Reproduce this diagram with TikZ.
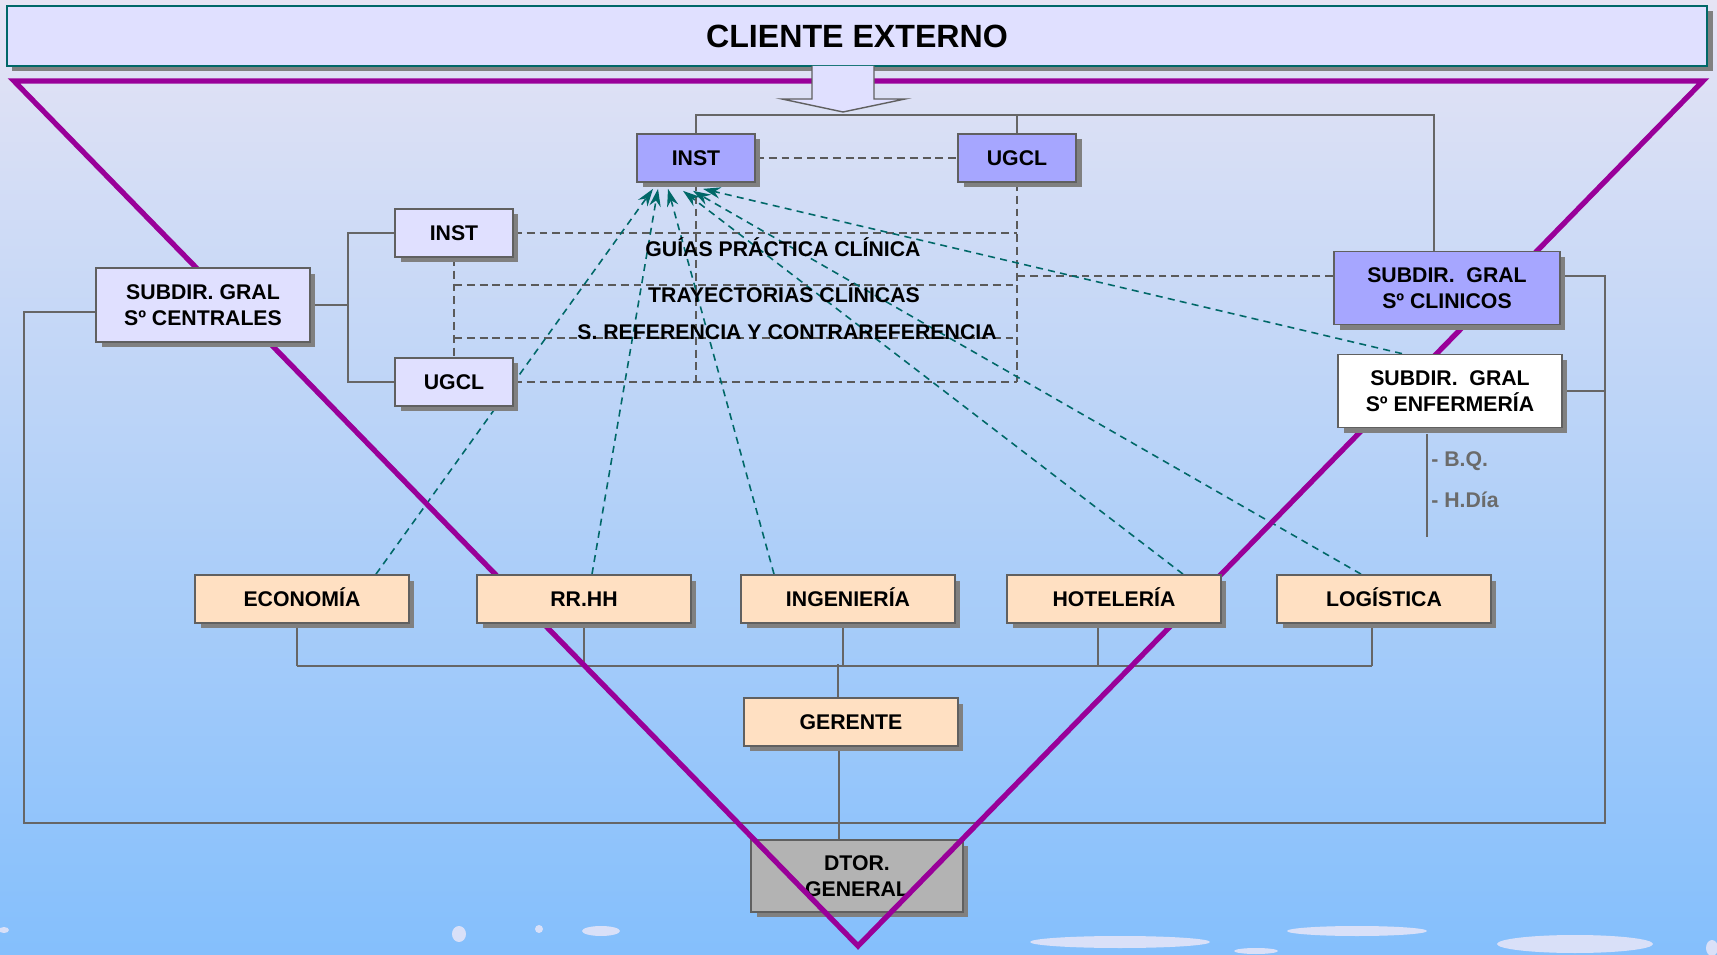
\documentclass[tikz,border=0pt]{standalone}
\usepackage{fontspec}
\setmainfont{Liberation Sans}
\usepackage{tikz}
\usetikzlibrary{calc}
\usetikzlibrary{arrows.meta}
\usetikzlibrary{shadows}
\usepackage{color}
\definecolor{lavanda}{RGB}{224, 224, 255}
\definecolor{malva}{RGB}{166, 166, 255}
\definecolor{melocoton}{RGB}{255, 224, 194}
\definecolor{grisdtor}{RGB}{179, 179, 179}
\definecolor{sombra}{RGB}{128, 128, 128}
\definecolor{borde}{RGB}{96, 96, 96}
\definecolor{gristraz}{RGB}{90, 90, 90}
\definecolor{grislinea}{RGB}{102, 102, 102}
\definecolor{gristexto}{RGB}{107, 107, 107}
\definecolor{purpura}{RGB}{153, 0, 153}
\definecolor{verdemar}{RGB}{0, 104, 104}
\definecolor{cielosup}{RGB}{230, 228, 244}
\definecolor{cielomed}{RGB}{168, 203, 242}
\definecolor{cieloinf}{RGB}{132, 191, 252}
\definecolor{nube}{RGB}{232, 230, 248}
\pgfdeclarelayer{fondo}
\pgfdeclarelayer{lineas}
\pgfdeclarelayer{triangulo}
\pgfsetlayers{fondo,lineas,triangulo,main}
\tikzset{
  caja/.style={draw=borde, line width=1pt, inner sep=0pt, align=center,
    font=\bfseries\fontsize{12.1}{14.8}\selectfont,
    drop shadow={shadow xshift=0.11cm, shadow yshift=-0.11cm, fill=sombra, opacity=1}},
  cajachica/.style={caja, minimum width=2.36cm, minimum height=0.96cm, text height=8.7pt, text depth=0pt},
  cajadep/.style={caja, fill=melocoton, minimum width=4.28cm, minimum height=0.96cm, text height=8.7pt, text depth=0pt},
  rotulo/.style={inner sep=0pt, font=\bfseries\fontsize{12.1}{14.8}\selectfont},
  gristxt/.style={inner sep=0pt, text=gristexto, font=\bfseries\fontsize{12.1}{14.8}\selectfont},
  linea/.style={draw=grislinea, line width=0.9pt},
  guion/.style={draw=gristraz, line width=1pt, dash pattern=on 4.5pt off 2.8pt},
  flecha/.style={draw=verdemar, line width=0.9pt, dash pattern=on 4pt off 3pt,
    -{Stealth[length=10pt, width=6.5pt]}}
}

\begin{document}
\begin{tikzpicture}[x=0.02cm, y=-0.02cm]
            \useasboundingbox (0,0) rectangle (1717,955);
            % Fondo, nubes y director
            \begin{pgfonlayer}{fondo}
            \shade[top color=cielosup, middle color=cielomed, bottom color=cieloinf] (0,0) rectangle (1717,955);
            \foreach \cx/\cy/\rx/\ry in {459/934/7/8, 539/929/4/4, 601/931/19/5, 1120/942/90/6,
                                         1256/951/22/3, 1357/931/70/5, 1575/944/78/9, 1712/948/6/8, 4/930/5/3}
                \fill[nube, opacity=0.85] (\cx,\cy) ellipse [x radius=\rx, y radius=\ry];
            \node[caja, fill=grisdtor, minimum width=4.24cm, minimum height=1.44cm] (dtor) at (857,876) {DTOR.\\GENERAL};
            \end{pgfonlayer}
            % Cliente externo
            \node[caja, draw=verdemar, fill=lavanda, minimum width=34.02cm, minimum height=1.2cm,
                  font=\bfseries\fontsize{18.3}{22}\selectfont] (cliente) at (857,36) {CLIENTE EXTERNO};
            \draw[draw=borde, fill=lavanda, line width=0.8pt] (812,66) -- (812,99) -- (782,99) -- (843,112)
                 -- (905,99) -- (874,99) -- (874,66);
            % Cajas
            \node[cajachica, fill=malva]   (instT) at (696,158) {INST};
            \node[cajachica, fill=malva]   (ugclT) at (1017,158) {UGCL};
            \node[cajachica, fill=lavanda] (instI) at (454,233) {INST};
            \node[cajachica, fill=lavanda] (ugclI) at (454,382) {UGCL};
            \node[caja, fill=lavanda, minimum width=4.28cm, minimum height=1.48cm] (subC) at (203,305) {SUBDIR. GRAL\\Sº CENTRALES};
            \node[caja, fill=malva, minimum width=4.52cm, minimum height=1.46cm] (clin) at (1447,288) {SUBDIR.~~GRAL\\Sº CLINICOS};
            \node[caja, fill=white, minimum width=4.48cm, minimum height=1.46cm] (enf) at (1450,391) {SUBDIR.~~GRAL\\Sº ENFERMERÍA};
            \foreach \n/\x/\t in {eco/302/ECONOMÍA, rrhh/584/RR.HH, ing/848/INGENIERÍA, hot/1114/HOTELERÍA, log/1384/LOGÍSTICA}
                \node[cajadep] (\n) at (\x,599) {\t};
            \node[cajadep] (ger) at (851,722) {GERENTE};
            % Textos
            \node[rotulo] (guias) at (783,247) {GUÍAS PRÁCTICA CLÍNICA};
            \node[rotulo] (tray)  at (784,293) {TRAYECTORIAS CLÍNICAS};
            \node[rotulo] (sref)  at (787,332) {S. REFERENCIA Y CONTRAREFERENCIA};
            \node[gristxt, anchor=west] (bq)   at (1431,461) {- B.Q.};
            \node[gristxt, anchor=west] (hdia) at (1431,500) {- H.Día};
            % Triangulo
            \begin{pgfonlayer}{triangulo}
            \draw[purpura, line width=3pt, line join=miter] (14,81) -- (1703,81) -- (858,946) -- cycle;
            \end{pgfonlayer}
            \begin{pgfonlayer}{lineas}
            % Lineas de mando
            \coordinate (busT) at (1434,115);
            \draw[linea] (instT.north) |- (busT) -- (busT |- clin.north);
            \draw[linea] (ugclT.north) -- (ugclT.north |- busT);
            \coordinate (busL) at (348,308);
            \draw[linea] (subC.east) -- (subC.east -| busL);
            \draw[linea] (instI.west) -| (busL) |- (ugclI.west);
            \coordinate (esqD) at (1605,823);
            \coordinate (esqI) at (24,823);
            \draw[linea] ($(clin.east)+(0,-12)$) -| (esqD) -- (esqI) |- ($(subC.west)+(0,7)$);
            \draw[linea] (enf.east) -- (enf.east -| esqD);
            \foreach \n/\dx in {eco/-5, rrhh/0, ing/-5, hot/-16, log/-12}
                \draw[linea] ($(\n.south)+(\dx,0)$) -- ($(\n.south)+(\dx,42)$);
            \draw[linea] ($(eco.south)+(-5,42)$) -- ($(log.south)+(-12,42)$);
            \draw[linea] ($(ger.north)+(-13,0)$) -- ($(ger.north)+(-13,-33)$);
            \draw[linea] ($(ger.south)+(-12,0)$) -- ($(dtor.north)+(-18,0)$);
            \draw[linea] ($(enf.south)+(-23,6)$) -- ($(enf.south)+(-23,109)$);
            % Punteadas
            \draw[guion] (instT.east) -- (ugclT.west);
            \draw[guion] (ugclT.south) -- (ugclT.south |- ugclI.east);
            \draw[guion] (instT.south) -- (instT.south |- ugclI.east);
            \draw[guion] (instI.east) -- (instI.east -| ugclT.south);
            \draw[guion] (instI.south) -- (ugclI.north);
            \draw[guion] ($(instI.south)+(0,27)$) -- ++(563,0);
            \draw[guion] ($(instI.south)+(0,80)$) -- ++(563,0);
            \draw[guion] (ugclI.east) -- (ugclI.east -| ugclT.south);
            \draw[guion] ($(clin.west)+(0,-12)$) -- ($(clin.west)+(-317,-12)$);
            % Flechas
            \draw[flecha] ($(eco.north)+(74,0)$)  -- ($(instT.south)+(-43,6)$);
            \draw[flecha] ($(rrhh.north)+(8,0)$)  -- ($(instT.south)+(-38,6)$);
            \draw[flecha] ($(ing.north)+(-74,0)$) -- ($(instT.south)+(-28,6)$);
            \draw[flecha] ($(hot.north)+(69,0)$)  -- ($(instT.south)+(-13,8)$);
            \draw[flecha] ($(log.north)+(-23,0)$) -- ($(instT.south)+(-3,8)$);
            \draw[flecha] ($(enf.north)+(-48,0)$) -- ($(instT.south)+(7,6)$);
            \end{pgfonlayer}
        \end{tikzpicture}
\end{document}
